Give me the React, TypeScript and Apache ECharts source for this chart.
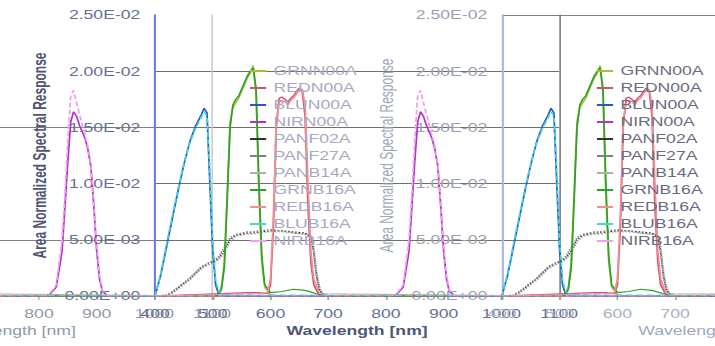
import React, { useEffect, useRef } from 'react';
import * as echarts from 'echarts';

// ---------- data ----------
const seriesNames = ['GRNN00A', 'REDN00A', 'BLUN00A', 'NIRN00A', 'PANF02A', 'PANF27A', 'PANB14A', 'GRNB16A', 'REDB16A', 'BLUB16A', 'NIRB16A'];

const wlBlu = [400, 410, 420, 430, 440, 450, 460, 470, 480, 485, 490, 495, 500, 505, 510, 520, 1100];
const bluN00A = [0, 0.0019, 0.0044, 0.0069, 0.0094, 0.0117, 0.0137, 0.0151, 0.0161, 0.0167, 0.0163, 0.01, 0.004, 0.001, 0.0002, 0, 0];
const bluB16A = [0, 0.002, 0.0046, 0.0071, 0.0095, 0.0118, 0.0136, 0.0149, 0.0159, 0.0164, 0.016, 0.011, 0.0048, 0.0014, 0.0004, 0.0001, 0];

const wlGrn = [400, 505, 510, 515, 520, 525, 530, 535, 540, 545, 550, 555, 560, 565, 570, 575, 580, 585, 590, 600, 620, 640, 660, 680, 700, 1100];
const grnN00A = [0, 0, 0.0002, 0.0008, 0.003, 0.009, 0.0155, 0.0168, 0.0172, 0.0176, 0.0182, 0.0188, 0.0194, 0.0198, 0.0205, 0.018, 0.009, 0.003, 0.0008, 0.0001, 0, 0, 0, 0, 0, 0];
const grnB16A = [0, 0, 0.0001, 0.0006, 0.0025, 0.0085, 0.015, 0.017, 0.0175, 0.0178, 0.0184, 0.019, 0.0196, 0.02, 0.0203, 0.0185, 0.01, 0.0035, 0.001, 0.0003, 0.0004, 0.0006, 0.0005, 0.0002, 0, 0];

const wlRed = [400, 560, 580, 595, 600, 605, 610, 615, 620, 625, 630, 635, 640, 645, 650, 655, 660, 665, 670, 675, 685, 1100];
const redN00A = [0, 0.0003, 0.0003, 0.0002, 0.001, 0.006, 0.015, 0.0176, 0.0177, 0.0175, 0.0172, 0.0176, 0.0178, 0.0182, 0.0185, 0.0183, 0.016, 0.008, 0.003, 0.001, 0, 0];
const redB16A = [0, 0.0002, 0.0002, 0.0003, 0.0015, 0.007, 0.0155, 0.0172, 0.0174, 0.0173, 0.017, 0.0174, 0.0176, 0.018, 0.0183, 0.0184, 0.017, 0.01, 0.004, 0.0015, 0.0002, 0];

const wlNir = [400, 810, 820, 830, 840, 845, 850, 855, 860, 865, 870, 880, 885, 890, 895, 900, 905, 910, 920, 1100];
const nirN00A = [0, 0, 0.0002, 0.0008, 0.004, 0.008, 0.012, 0.0155, 0.0164, 0.016, 0.0152, 0.014, 0.013, 0.0115, 0.008, 0.004, 0.0015, 0.0004, 0, 0];
const nirB16A = [0, 0, 0.0003, 0.001, 0.005, 0.009, 0.014, 0.0178, 0.0183, 0.0172, 0.0162, 0.0143, 0.0132, 0.0116, 0.0082, 0.0045, 0.0018, 0.0005, 0, 0];

const wlPan = [400, 420, 430, 440, 450, 460, 470, 480, 490, 500, 510, 520, 530, 540, 550, 560, 570, 580, 600, 620, 640, 660, 670, 675, 680, 685, 690, 700, 1100];
const panF02A = [0, 0, 0.0003, 0.0007, 0.0011, 0.0015, 0.002, 0.0025, 0.0028, 0.003, 0.0033, 0.004, 0.005, 0.0054, 0.0055, 0.0056, 0.0056, 0.0057, 0.0058, 0.0058, 0.0057, 0.0056, 0.0053, 0.004, 0.0018, 0.0006, 0.0002, 0, 0];
const panF27A = [0, 0.0001, 0.0004, 0.0008, 0.0012, 0.0016, 0.0021, 0.0026, 0.0029, 0.0031, 0.0035, 0.0043, 0.0052, 0.0055, 0.0056, 0.0057, 0.0057, 0.0058, 0.0059, 0.0058, 0.0056, 0.0055, 0.0052, 0.0038, 0.0016, 0.0005, 0.0001, 0, 0];
const panB14A = [0, 0, 0.0002, 0.0006, 0.001, 0.0014, 0.0019, 0.0024, 0.0027, 0.0029, 0.0032, 0.0038, 0.0048, 0.0053, 0.0054, 0.0055, 0.0055, 0.0056, 0.0057, 0.0057, 0.0056, 0.0055, 0.0054, 0.0044, 0.0022, 0.0008, 0.0003, 0, 0];

const xTicks = { min: 400, max: 1100, step: 100 };
const yTicks = { min: 0, max: 0.025, step: 0.005 };

// ---------- layout (chart is drawn narrow and stretched horizontally) ----------
const W = 487;
const H = 346;
const S = 715 / W;
const tileLefts = [-130.7, 105.6, 341.9];
const gridW = 275.2;
const gridTop = 15;
const gridH = 281;
const FONT = 'Liberation Sans, Arial, sans-serif';

const styles: Record<string, { color: string; type?: string; width?: number }> = {
  GRNN00A: { color: '#a8c030' },
  REDN00A: { color: '#d05070' },
  BLUN00A: { color: '#2858c8' },
  NIRN00A: { color: '#b030d0' },
  PANF02A: { color: '#303030', type: 'dotted' },
  PANF27A: { color: '#808080', type: 'dotted' },
  PANB14A: { color: '#b0b0b0', type: 'dotted' },
  GRNB16A: { color: '#30a030' },
  REDB16A: { color: '#f09090' },
  BLUB16A: { color: '#40d8d8', type: 'dashed' },
  NIRB16A: { color: '#f0a0e8', type: 'dashed' },
};

const seriesData: Record<string, [number[], number[]]> = {
  GRNN00A: [wlGrn, grnN00A],
  REDN00A: [wlRed, redN00A],
  BLUN00A: [wlBlu, bluN00A],
  NIRN00A: [wlNir, nirN00A],
  PANF02A: [wlPan, panF02A],
  PANF27A: [wlPan, panF27A],
  PANB14A: [wlPan, panB14A],
  GRNB16A: [wlGrn, grnB16A],
  REDB16A: [wlRed, redB16A],
  BLUB16A: [wlBlu, bluB16A],
  NIRB16A: [wlNir, nirB16A],
};

const fmt = (v: number) => {
  const [m, e] = v.toExponential(2).split('e');
  const n = parseInt(e, 10);
  return `${m}E${n < 0 ? '-' : '+'}${String(Math.abs(n)).padStart(2, '0')}`;
};

const T = 'rgba(0,0,0,0)';
const tileCfg = [
  { xLabel: '#9098a8', xName: '#9098a8', xBold: 'normal', yLabel: '#9098a8', yName: '#9098a8', yBold: 'normal', yLine: '#a8b0f0', xLine: '#b0b0b0', right: '#c8c8c8', split: [T, '#808080', T, '#808080', T, T] },
  { xLabel: '#66708f', xName: '#4e5676', xBold: 'bold', yLabel: '#66708f', yName: '#4e5676', yBold: 'bold', yLine: '#6a78e8', xLine: '#909090', right: '#707070', split: [T, '#707070', '#707070', '#707070', '#707070', T] },
  { xLabel: '#a8b0c4', xName: '#a0a8c0', xBold: 'normal', yLabel: '#9aa0b4', yName: '#a0a8b8', yBold: 'normal', yLine: '#a8b0f0', xLine: '#a0a0a0', right: '#a0a0a0', split: [T, T, T, T, T, '#808080'] },
];

function buildOption() {
  const grid = tileLefts.map((l) => ({ left: l, top: gridTop, width: gridW, height: gridH, containLabel: false, outerBoundsMode: 'none' }));
  const xAxis = tileCfg.map((c, t) => ({
    type: 'value',
    gridIndex: t,
    min: xTicks.min,
    max: xTicks.max,
    interval: xTicks.step,
    axisLine: { show: true, onZero: false, lineStyle: { color: c.xLine, width: 1 } },
    axisTick: { show: true, length: 4, lineStyle: { color: c.xLine } },
    axisLabel: { margin: 12, fontSize: 12, color: c.xLabel, fontFamily: FONT, formatter: (v: number) => String(v) },
    splitLine: { show: false },
    name: 'Wavelength [nm]',
    nameLocation: 'middle',
    nameGap: 27,
    nameTextStyle: { fontSize: 12, fontWeight: c.xBold, color: c.xName, fontFamily: FONT },
  }));
  const yAxis: any[] = [];
  tileCfg.forEach((c, t) => {
    yAxis.push({
      type: 'value',
      gridIndex: t,
      position: 'left',
      min: yTicks.min,
      max: yTicks.max,
      interval: yTicks.step,
      axisLine: { show: true, lineStyle: { color: c.yLine, width: 1.4 } },
      axisTick: { show: false },
      axisLabel: { margin: 10, fontSize: 12, color: c.yLabel, fontFamily: FONT, formatter: fmt },
      splitLine: { show: true, lineStyle: { color: c.split, width: 1 } },
      name: 'Area Normalized Spectral Response',
      nameLocation: 'middle',
      nameGap: 65,
      nameTextStyle: { fontSize: 12, fontWeight: c.yBold, color: c.yName, fontFamily: FONT },
    });
    yAxis.push({
      type: 'value',
      gridIndex: t,
      position: 'right',
      min: yTicks.min,
      max: yTicks.max,
      interval: yTicks.step,
      axisLine: { show: true, lineStyle: { color: c.right, width: 1 } },
      axisTick: { show: false },
      axisLabel: { show: false },
      splitLine: { show: false },
    });
  });
  const series: any[] = [];
  tileCfg.forEach((_, t) => {
    seriesNames.forEach((name) => {
      const [wl, vals] = seriesData[name];
      const st = styles[name];
      series.push({
        type: 'line',
        name,
        xAxisIndex: t,
        yAxisIndex: t * 2,
        data: wl.map((w, i) => [w, vals[i]]),
        showSymbol: false,
        symbol: 'none',
        clip: true,
        lineStyle: { color: st.color, width: 1.2, type: st.type || 'solid' },
        itemStyle: { color: st.color },
        emphasis: { disabled: true },
      });
    });
  });
  const legendLefts = [170.3, 406.6];
  const legendColors = ['#a8a8c0', '#6a6a80'];
  const legend = legendLefts.map((l, i) => ({
    show: true,
    orient: 'vertical',
    left: l,
    top: 62.5,
    padding: 0,
    itemWidth: 11,
    itemHeight: 2,
    itemGap: 0,
    icon: 'rect',
    selectedMode: false,
    data: seriesNames,
    textStyle: { fontSize: 12, lineHeight: 17, color: legendColors[i], fontFamily: FONT },
  }));
  return {
    animation: false,
    backgroundColor: '#ffffff',
    grid,
    xAxis,
    yAxis,
    legend,
    series,
  };
}

export default function App() {
  const ref = useRef<HTMLDivElement>(null);
  useEffect(() => {
    if (!ref.current) return;
    const chart = echarts.init(ref.current, null, { renderer: 'svg' });
    chart.setOption(buildOption() as any);
    return () => chart.dispose();
  }, []);
  return (
    <div style={{ position: 'fixed', left: 0, top: 0, width: 715, height: 346, overflow: 'hidden', background: '#fff' }}>
      <div ref={ref} style={{ width: W, height: H, transform: `scaleX(${S})`, transformOrigin: '0 0' }} />
    </div>
  );
}
